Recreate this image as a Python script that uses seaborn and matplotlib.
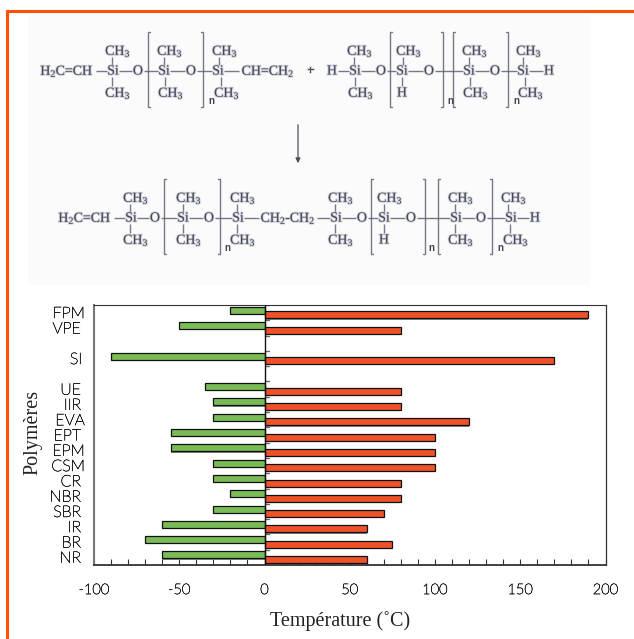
import matplotlib
matplotlib.use("Agg")
import matplotlib.pyplot as plt
import matplotlib.patheffects as pe
from matplotlib.transforms import ScaledTranslation
import seaborn as sns
import pandas as pd

# chart data, bottom of the axis is NR, blanks keep the gaps around SI
polymers = ["FPM", "VPE", "_a", "SI", "_b", "UE", "IIR", "EVA", "EPT", "EPM", "CSM",
            "CR", "NBR", "SBR", "IR", "BR", "NR"]
t_min = [-20, -50, None, -90, None, -35, -30, -30, -55, -55, -30, -30, -20, -30, -60, -70, -60]
t_max = [190, 80, None, 170, None, 80, 80, 120, 100, 100, 100, 80, 80, 70, 60, 75, 60]
x_major = [-100, -50, 0, 50, 100, 150, 200]
x_labels = ["-100", "-50", "0", "50", "100", "150", "200"]
x_minor = list(range(-100, 201, 10))

# wider labels stick out a bit on the right (px)
label_shift = {"FPM": 4, "EVA": 4, "EPM": 4, "CSM": 4, "SI": 1}

# reaction scheme, one row per list: (text, x px) on the row baseline
row1_y = 71
row1_atoms = [("H$_2$C=CH", 67), ("Si", 113), ("O", 138), ("Si", 164), ("O", 191), ("Si", 218),
              ("CH=CH$_2$", 268), ("+", 311), ("H", 332), ("Si", 355), ("O", 381), ("Si", 402),
              ("O", 429), ("Si", 469), ("O", 495), ("Si", 523), ("H", 549)]
row1_up = [("CH$_3$", 118), ("CH$_3$", 170), ("CH$_3$", 225), ("CH$_3$", 360), ("CH$_3$", 409),
           ("CH$_3$", 475), ("CH$_3$", 529)]
row1_down = [("CH$_3$", 118), ("CH$_3$", 171), ("CH$_3$", 227), ("CH$_3$", 361), ("H", 402),
             ("CH$_3$", 476), ("CH$_3$", 531)]
row1_brackets = [148, 203, 390, 443, 453, 508]
row1_n = [211, 450, 516]

row2_y = 218
row2_atoms = [("H$_2$C=CH", 85), ("Si", 131), ("O", 155), ("Si", 183), ("O", 209), ("Si", 238),
              ("CH$_2$-CH$_2$", 288), ("Si", 336), ("O", 362), ("Si", 384), ("O", 411), ("Si", 456),
              ("O", 481), ("Si", 511), ("H", 535)]
row2_up = [("CH$_3$", 136), ("CH$_3$", 189), ("CH$_3$", 243), ("CH$_3$", 341), ("CH$_3$", 390),
           ("CH$_3$", 461), ("CH$_3$", 514)]
row2_down = [("CH$_3$", 136), ("CH$_3$", 189), ("CH$_3$", 243), ("CH$_3$", 341), ("H", 384),
             ("CH$_3$", 461), ("CH$_3$", 516)]
row2_brackets = [164, 220, 371, 425, 438, 492]
row2_n = [227, 431, 500]

sns.set_theme(style="white")
plt.rcParams["mathtext.fontset"] = "custom"
plt.rcParams["mathtext.rm"] = "Liberation Serif"
plt.rcParams["mathtext.default"] = "rm"

ORANGE = "#ff5000"
INK = "#44485a"
GREEN = "#7bbb55"
RED = "#ee5229"

fig = plt.figure(figsize=(6.34, 6.39), dpi=100, facecolor="white")

# ---- page layer in pixel coordinates ----
page = fig.add_axes([0, 0, 1, 1], zorder=0)
page.set_xlim(0, 634)
page.set_ylim(639, 0)
page.axis("off")
page.fill_between([28, 590], 15, 285, color="#fbfbfc", lw=0)
page.plot([6.5, 6.5], [10, 639], color=ORANGE, lw=2.2, solid_capstyle="butt")
page.plot([5.5, 634], [10.5, 10.5], color=ORANGE, lw=2.2, solid_capstyle="butt")

soft = [pe.withStroke(linewidth=1.4, foreground="#b4b7c0", alpha=0.55)]
# Lato Light comes out too pale at this size, thicken it a little
firm = [pe.withStroke(linewidth=0.35, foreground="#222222")]


def chem(txt, x, y, size=10):
    page.text(x, y, txt, family="Liberation Serif", fontsize=size, color=INK,
              ha="center", va="center", path_effects=soft,
              weight="bold" if txt == "+" else "normal")


def bond(x0, y0, x1, y1):
    page.plot([x0, x1], [y0, y1], color="#5f6370", lw=1.0, alpha=0.85, solid_capstyle="butt")


def scheme_row(y, atoms, up, down, brackets, ns):
    for i, (txt, x) in enumerate(atoms):
        chem(txt, x, y)
        if i:
            prev_txt, prev_x = atoms[i - 1]
            if "+" in (txt, prev_txt):
                continue
            half0 = 29 if len(prev_txt) > 3 else 6
            half1 = 29 if len(txt) > 3 else 6
            bond(prev_x + half0, y, x - half1, y)
    for txt, x in up:
        chem(txt, x, y - 20)
        bond(x - 6, y - 14, x - 6, y - 6)
    for txt, x in down:
        chem(txt, x, y + 22)
        bx = x if txt == "H" else x - 6
        bond(bx, y + 6, bx, y + 15)
    for i, x in enumerate(brackets):
        tick = 2 if i % 2 == 0 else -2
        page.plot([x + tick, x, x, x + tick], [y - 39, y - 39, y + 36, y + 36],
                  color="#5f6370", lw=1.0, alpha=0.85)
    for x in ns:
        page.text(x, y + 30, "n", family="Liberation Sans", fontsize=7, weight="bold",
                  color="#3f434d", ha="center", va="center")


scheme_row(row1_y, row1_atoms, row1_up, row1_down, row1_brackets, row1_n)
scheme_row(row2_y, row2_atoms, row2_up, row2_down, row2_brackets, row2_n)
page.annotate("", xy=(298, 166), xytext=(298, 122),
              arrowprops=dict(arrowstyle="-|>", color="#4c505a", lw=0.9, mutation_scale=7))

# ---- bar chart ----
ax = fig.add_axes([94 / 634, (639 - 565) / 639, 511.5 / 634, 260 / 639], zorder=1)

df = pd.DataFrame({"polymer": polymers * 2,
                   "temp": t_min + t_max,
                   "series": ["min"] * len(polymers) + ["max"] * len(polymers)}).dropna()

sns.barplot(data=df, y="polymer", x="temp", hue="series", order=polymers,
            hue_order=["min", "max"], palette=[GREEN, RED], dodge=True, width=0.6,
            gap=0, saturation=1, edgecolor="#111111", linewidth=0.9, legend=False,
            errorbar=None, ax=ax, zorder=3)

# bars are taller than the dodge step, they only meet at the zero line
for p in list(ax.patches):
    mid = p.get_y() + p.get_height() / 2
    p.set_height(0.46)
    p.set_y(mid - 0.24)
    shadow = plt.Rectangle((p.get_x(), mid + 0.2), p.get_width(), 0.1, color="#808080", lw=0, zorder=2)
    ax.add_patch(shadow)

ax.set_xlim(-100, 200)
ax.set_ylim(len(polymers) - 0.5, -0.5)
ax.set_xticks(x_major)
ax.set_xticklabels(x_labels, family="Lato", weight="light", fontsize=10.5, color="#111111",
                   path_effects=firm)
ax.set_xticks(x_minor, minor=True)
ax.tick_params(axis="x", which="both", direction="in", bottom=True, length=4, width=0.8,
               color="#333333", pad=13)
ax.tick_params(axis="y", left=False, pad=4)

ax.axvline(0, color="#111111", lw=1.0, zorder=4)
for i in range(len(polymers)):
    ax.plot([0, 2.5], [i - 0.5, i - 0.5], color="#666666", lw=1.0, zorder=2)

ax.set_yticks(range(len(polymers)))
ax.set_yticklabels(["" if n.startswith("_") else n for n in polymers],
                   family="Lato", weight="light", fontsize=11.5, color="#111111",
                   path_effects=firm)
for lab in ax.get_yticklabels():
    shift = label_shift.get(lab.get_text(), 0)
    lab.set_transform(lab.get_transform() + ScaledTranslation((shift + 1) / 100, 0, fig.dpi_scale_trans))

for side, c, w in [("top", "#333333", 0.8), ("right", "#333333", 0.9),
                   ("left", "#777777", 1.5), ("bottom", "#333333", 1.3)]:
    ax.spines[side].set_visible(True)
    ax.spines[side].set_color(c)
    ax.spines[side].set_linewidth(w)

ax.set_xlabel("")
ax.set_ylabel("")
fig.text(340 / 634, 1 - 621 / 639, "Température (˚C)", family="Liberation Serif", fontsize=14.5,
         color="#222222", ha="center", va="center")
fig.text(33 / 634, 1 - 432 / 639, "Polymères", family="Liberation Serif", fontsize=14.5,
         color="#222222", rotation=90, ha="center", va="center")

fig.savefig("out.png", dpi=100)
